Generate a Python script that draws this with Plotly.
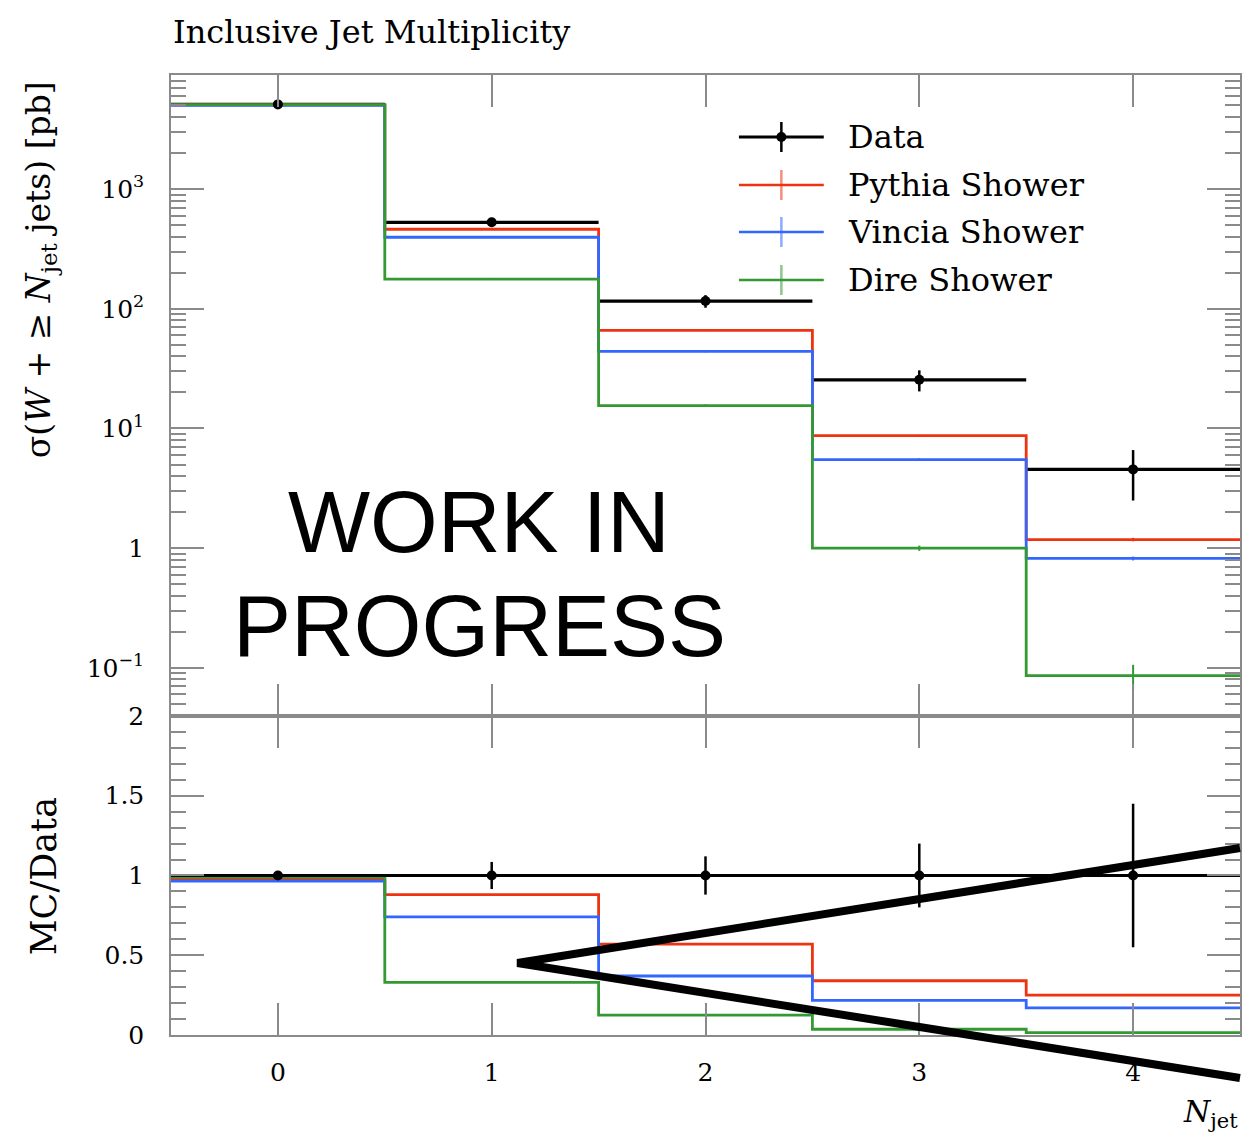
import numpy as np
import plotly.graph_objects as go

# ---------------- data ----------------
njet = [0, 1, 2, 3, 4]
xtick_labels = ["0", "1", "2", "3", "4"]

# inclusive cross sections [pb]
data_xs = [5100, 528, 116, 25.5, 4.55]
data_err = [100, 45, 14, 5.1, 2.05]
pythia_xs = [5050, 462, 66, 8.7, 1.18]
vincia_xs = [5000, 396, 44, 5.5, 0.82]
dire_xs = [5070, 177, 15.5, 1.0, 0.086]
pythia_err = [15, 3, 0.8, 0.15, 0.04]
vincia_err = [15, 3, 0.7, 0.12, 0.03]
dire_err = [15, 2, 0.4, 0.05, 0.02]

# MC / Data ratios
data_ratio = [1, 1, 1, 1, 1]
data_ratio_err = [0.01, 0.085, 0.12, 0.2, 0.45]
pythia_ratio = [0.98, 0.88, 0.57, 0.34, 0.25]
vincia_ratio = [0.965, 0.74, 0.37, 0.217, 0.17]
dire_ratio = [0.99, 0.33, 0.125, 0.036, 0.015]

log_ticks = [0.1, 1, 10, 100, 1000]
log_tick_text = ["10<sup>−1</sup>", "1", "10<sup>1</sup>", "10<sup>2</sup>", "10<sup>3</sup>"]
ratio_ticks = [0, 0.5, 1, 1.5, 2]
ratio_tick_text = ["0", "0.5", "1", "1.5", "2"]

RED, BLUE, GREEN = "#ee3311", "#3366ff", "#339933"
SERIF = "DejaVu Serif"

# ---------------- geometry ----------------
W, H = 1242, 1140
ML, MR, MT, MB = 171, 0, 75, 105
SPLIT = 0.3323  # ratio panel occupies the lower third

centers = np.array(njet, dtype=float)
edges = np.append(centers - 0.5, centers[-1] + 0.5)


def step_y(vals):
    return list(vals) + [vals[-1]]


def px_x(px):
    return (px - ML) / (W - ML - MR)


def px_y(py):
    return (H - MB - py) / (H - MT - MB)


fig = go.Figure()

mc = [
    ("Pythia Shower", RED, pythia_xs, pythia_err, pythia_ratio),
    ("Vincia Shower", BLUE, vincia_xs, vincia_err, vincia_ratio),
    ("Dire Shower", GREEN, dire_xs, dire_err, dire_ratio),
]

# data bin-width bars and error bars (below the MC lines)
fig.add_trace(go.Scatter(
    x=njet, y=data_xs, mode="markers", marker=dict(size=1, color="black"),
    error_x=dict(type="constant", value=0.5, width=0, thickness=3.2, color="black"),
    error_y=dict(type="data", array=data_err, width=0, thickness=2.5, color="black"),
    xaxis="x", yaxis="y", showlegend=False, hoverinfo="skip"))

for name, col, xs, err, ratio in mc:
    fig.add_trace(go.Scatter(
        x=edges, y=step_y(xs), mode="lines", line=dict(color=col, width=2.8, shape="hv"),
        xaxis="x", yaxis="y", name=name, showlegend=False))
    fig.add_trace(go.Scatter(
        x=njet, y=xs, mode="markers", marker=dict(size=1, color=col, opacity=0),
        error_y=dict(type="data", array=err, width=0, thickness=2, color=col),
        xaxis="x", yaxis="y", showlegend=False, hoverinfo="skip"))
    fig.add_trace(go.Scatter(
        x=edges, y=step_y(ratio), mode="lines", line=dict(color=col, width=2.8, shape="hv"),
        xaxis="x2", yaxis="y2", showlegend=False))

# data points on top
fig.add_trace(go.Scatter(
    x=njet, y=data_xs, mode="markers", marker=dict(size=10, color="black"),
    xaxis="x", yaxis="y", name="Data", showlegend=False))

fig.add_trace(go.Scatter(
    x=edges, y=step_y(data_ratio), mode="lines", line=dict(color="black", width=2.8, shape="hv"),
    xaxis="x2", yaxis="y2", showlegend=False, hoverinfo="skip"))
fig.add_trace(go.Scatter(
    x=njet, y=data_ratio, mode="markers", marker=dict(size=10, color="black"),
    error_y=dict(type="data", array=data_ratio_err, width=0, thickness=2.5, color="black"),
    xaxis="x2", yaxis="y2", showlegend=False))

# ---------------- axes ----------------
tick_font = dict(family=SERIF, size=25, color="black")
common = dict(showline=True, linecolor="#8a8a8a", linewidth=1.5, mirror="ticks",
              ticks="inside", tickcolor="#8a8a8a", tickwidth=1.5, showgrid=False,
              zeroline=False)

fig.update_layout(
    xaxis=dict(domain=[0, 1], anchor="y", range=[-0.5, 4.5], tickmode="array",
               tickvals=njet, showticklabels=False, ticklen=32, **common),
    yaxis=dict(domain=[SPLIT, 1], anchor="x", type="log",
               range=[np.log10(0.0396), np.log10(8980)],
               tickmode="array", tickvals=log_ticks, ticktext=log_tick_text,
               ticklen=33, tickfont=tick_font, ticklabelstandoff=20,
               minor=dict(ticks="inside", ticklen=15, tickcolor="#8a8a8a",
                          tickwidth=1.5, dtick="D1", showgrid=False),
               **common),
    xaxis2=dict(domain=[0, 1], anchor="y2", range=[-0.5, 4.5], tickmode="array",
                tickvals=njet, ticktext=xtick_labels, ticklen=32,
                tickfont=dict(family=SERIF, size=25, color="black"),
                ticklabelstandoff=14, **common),
    yaxis2=dict(domain=[0, SPLIT], anchor="x2", range=[0, 2], tickmode="array",
                tickvals=ratio_ticks, ticktext=ratio_tick_text, ticklen=33,
                tickfont=tick_font, ticklabelstandoff=20,
                minor=dict(ticks="inside", ticklen=15, tickcolor="#8a8a8a",
                           tickwidth=1.5, dtick=0.1, showgrid=False),
                **common),
)

# ---------------- text ----------------
annotations = [
    dict(text="Inclusive Jet Multiplicity", x=0, y=px_y(32), xanchor="left",
         yanchor="middle", font=dict(family=SERIF, size=32, color="black")),
    dict(text="σ(<i>W</i> + ≥ <i>N</i><sub>jet</sub> jets) [pb]", textangle=-90,
         x=px_x(40), y=px_y(270), xanchor="center", yanchor="middle",
         font=dict(family=SERIF, size=33, color="black")),
    dict(text="MC/Data", textangle=-90, x=px_x(44), y=px_y(876),
         xanchor="center", yanchor="middle",
         font=dict(family=SERIF, size=35, color="black")),
    dict(text="<i>N</i><sub>jet</sub>", x=1, y=px_y(1113), xanchor="right",
         yanchor="middle", font=dict(family=SERIF, size=30, color="black")),
    dict(text="WORK IN", x=px_x(480), y=px_y(521), xanchor="center", yanchor="middle",
         font=dict(family="Liberation Sans", size=87, color="black")),
    dict(text="PROGRESS", x=px_x(480), y=px_y(625), xanchor="center", yanchor="middle",
         font=dict(family="Liberation Sans", size=87, color="black")),
]

shapes = []

# legend block
legend_rows = [("Data", "black", 137), ("Pythia Shower", RED, 185),
               ("Vincia Shower", BLUE, 232), ("Dire Shower", GREEN, 280)]
lx0, lx1, lxc, ltext = 740, 825, 782.5, 847
for label, col, py in legend_rows:
    shapes.append(dict(type="line", xref="paper", yref="paper",
                       x0=px_x(lx0), x1=px_x(lx1), y0=px_y(py), y1=px_y(py),
                       line=dict(color=col, width=3 if col == "black" else 2.5)))
    shapes.append(dict(type="line", xref="paper", yref="paper",
                       x0=px_x(lxc), x1=px_x(lxc), y0=px_y(py - 15), y1=px_y(py + 15),
                       line=dict(color=col, width=2.5), opacity=1 if col == "black" else 0.55))
    if col == "black":
        shapes.append(dict(type="circle", xref="paper", yref="paper",
                           x0=px_x(lxc - 5), x1=px_x(lxc + 5), y0=px_y(py - 5), y1=px_y(py + 5),
                           fillcolor="black", line=dict(color="black", width=0)))
    annotations.append(dict(text=label, x=px_x(ltext), y=px_y(py), xanchor="left",
                            yanchor="middle", font=dict(family=SERIF, size=32, color="black")))

# hand-drawn wedge over the ratio panel
shapes.append(dict(type="path", xref="paper", yref="paper",
                   path=f"M {px_x(1242)},{px_y(848)} L {px_x(518)},{px_y(963)} L {px_x(1242)},{px_y(1078)}",
                   line=dict(color="black", width=8), layer="above"))

for a in annotations:
    a.setdefault("xref", "paper")
    a.setdefault("yref", "paper")
    a.setdefault("showarrow", False)

fig.update_layout(
    width=W, height=H, margin=dict(l=ML, r=MR, t=MT, b=MB, pad=0),
    paper_bgcolor="white", plot_bgcolor="white",
    annotations=annotations, shapes=shapes, showlegend=False,
)

fig.write_html("out.html")
